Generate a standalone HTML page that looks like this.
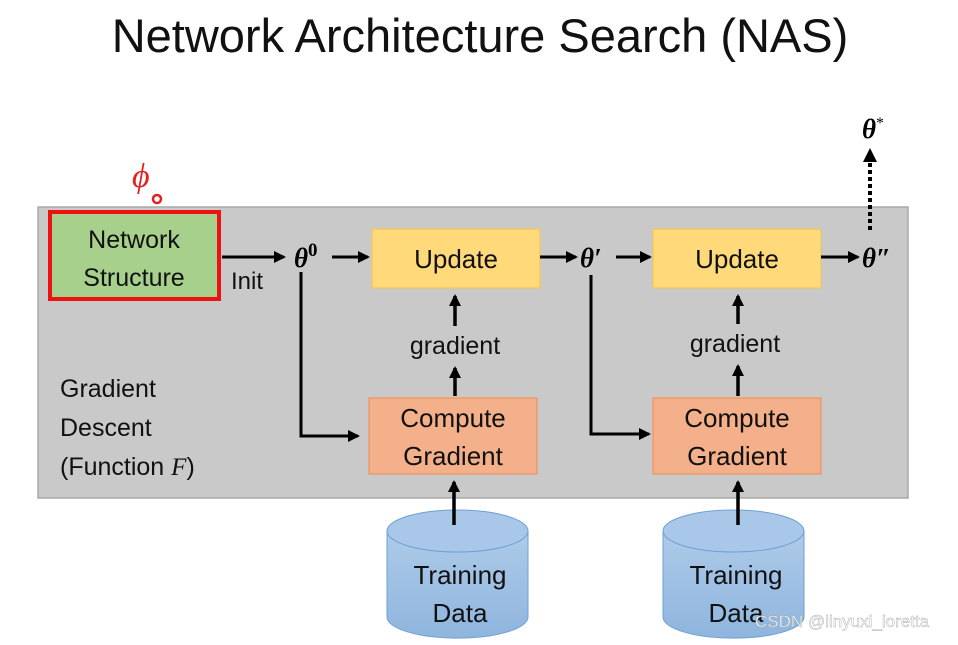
<!DOCTYPE html>
<html><head><meta charset="utf-8"><style>
body{margin:0;width:958px;height:640px;background:#fff;overflow:hidden;font-family:"Liberation Sans",sans-serif}
</style></head><body>
<svg width="958" height="640" viewBox="0 0 958 640" xmlns="http://www.w3.org/2000/svg" font-family="Liberation Sans, sans-serif">
<defs>
<marker id="a" markerWidth="8" markerHeight="8" refX="6" refY="4" orient="auto" markerUnits="userSpaceOnUse"><path d="M0,0 L8,4 L0,8 z" fill="#000"/></marker>
<marker id="b" markerWidth="12" markerHeight="12" refX="10" refY="6" orient="auto" markerUnits="userSpaceOnUse"><path d="M0,0 L12,6 L0,12 z" fill="#000"/></marker>
<linearGradient id="cy" x1="0" y1="0" x2="0" y2="1"><stop offset="0" stop-color="#aecbe9"/><stop offset="1" stop-color="#8fb5de"/></linearGradient>
</defs>
<text x="480" y="52" font-size="47" text-anchor="middle" fill="#111">Network Architecture Search (NAS)</text>
<rect x="38" y="207" width="870" height="291" fill="#c9c9c9" stroke="#a8a8a8" stroke-width="1.5"/>
<text x="132" y="187" font-size="34" fill="#e52020" font-style="italic" font-family="Liberation Serif, serif">ϕ</text>
<circle cx="157" cy="199" r="4" fill="none" stroke="#e52020" stroke-width="2.5"/>
<rect x="50" y="212" width="169" height="87" fill="#a8d08d" stroke="#ee1111" stroke-width="4"/>
<text x="134" y="248" font-size="25" text-anchor="middle" fill="#111">Network</text>
<text x="134" y="286" font-size="25" text-anchor="middle" fill="#111">Structure</text>
<line x1="222" y1="257" x2="284" y2="257" stroke="#000" stroke-width="3" marker-end="url(#b)"/>
<text x="231" y="289" font-size="24" fill="#111">Init</text>
<text x="294" y="267" font-size="27" font-weight="bold" font-style="italic" font-family="Liberation Serif, serif">θ<tspan font-size="19" dy="-11" font-style="normal">0</tspan></text>
<line x1="332" y1="257" x2="368" y2="257" stroke="#000" stroke-width="3" marker-end="url(#b)"/>
<rect x="372" y="229" width="168" height="59" fill="#ffd97a" stroke="#f2c24e"/>
<text x="456" y="268" font-size="26" text-anchor="middle" fill="#111">Update</text>
<line x1="540" y1="257" x2="576" y2="257" stroke="#000" stroke-width="3" marker-end="url(#b)"/>
<text x="580" y="267" font-size="27" font-weight="bold" font-style="italic" font-family="Liberation Serif, serif">θ′</text>
<line x1="616" y1="257" x2="650" y2="257" stroke="#000" stroke-width="3" marker-end="url(#b)"/>
<rect x="653" y="229" width="168" height="59" fill="#ffd97a" stroke="#f2c24e"/>
<text x="737" y="268" font-size="26" text-anchor="middle" fill="#111">Update</text>
<line x1="821" y1="257" x2="858" y2="257" stroke="#000" stroke-width="3" marker-end="url(#b)"/>
<text x="862" y="267" font-size="27" font-weight="bold" font-style="italic" font-family="Liberation Serif, serif">θ″</text>
<line x1="870" y1="230" x2="870" y2="158" stroke="#000" stroke-width="4" stroke-dasharray="4,3"/>
<path d="M863,162 L870,148 L877,162 z" fill="#000"/>
<text x="862" y="138" font-size="27" font-weight="bold" font-style="italic" font-family="Liberation Serif, serif">θ<tspan font-size="16" dy="-10" font-weight="normal" font-style="normal">*</tspan></text>
<polyline points="301,272 301,436 358,436" fill="none" stroke="#000" stroke-width="3" marker-end="url(#b)"/>
<polyline points="591,275 591,434 649,434" fill="none" stroke="#000" stroke-width="3" marker-end="url(#b)"/>
<rect x="369" y="398" width="168" height="76" fill="#f4b08a" stroke="#ee8a50"/>
<text x="453" y="427" font-size="26" text-anchor="middle" fill="#111">Compute</text>
<text x="453" y="465" font-size="26" text-anchor="middle" fill="#111">Gradient</text>
<rect x="653" y="398" width="168" height="76" fill="#f4b08a" stroke="#ee8a50"/>
<text x="737" y="427" font-size="26" text-anchor="middle" fill="#111">Compute</text>
<text x="737" y="465" font-size="26" text-anchor="middle" fill="#111">Gradient</text>
<line x1="455" y1="396" x2="455" y2="368" stroke="#000" stroke-width="3.5" marker-end="url(#b)"/>
<line x1="455" y1="326" x2="455" y2="296" stroke="#000" stroke-width="3.5" marker-end="url(#b)"/>
<text x="455" y="354" font-size="25" text-anchor="middle" fill="#111">gradient</text>
<line x1="738" y1="396" x2="738" y2="366" stroke="#000" stroke-width="3.5" marker-end="url(#b)"/>
<line x1="738" y1="324" x2="738" y2="296" stroke="#000" stroke-width="3.5" marker-end="url(#b)"/>
<text x="735" y="352" font-size="25" text-anchor="middle" fill="#111">gradient</text>
<g stroke="#6f9fd4" stroke-width="1">
<path d="M387,531 L387,617 A70,21 0 0 0 528,617 L528,531" fill="url(#cy)"/>
<ellipse cx="457.5" cy="531" rx="70.5" ry="21" fill="#a9c7e8"/>
<path d="M663,531 L663,617 A70,21 0 0 0 804,617 L804,531" fill="url(#cy)"/>
<ellipse cx="733.5" cy="531" rx="70.5" ry="21" fill="#a9c7e8"/>
</g>
<line x1="454" y1="525" x2="454" y2="482" stroke="#000" stroke-width="3.5" marker-end="url(#b)"/>
<line x1="738" y1="525" x2="738" y2="482" stroke="#000" stroke-width="3.5" marker-end="url(#b)"/>
<text x="460" y="584" font-size="26" text-anchor="middle" fill="#111">Training</text>
<text x="460" y="622" font-size="26" text-anchor="middle" fill="#111">Data</text>
<text x="736" y="584" font-size="26" text-anchor="middle" fill="#111">Training</text>
<text x="736" y="622" font-size="26" text-anchor="middle" fill="#111">Data</text>
<text x="755" y="627" font-size="17" fill="#fff" stroke="#999" stroke-width="0.4" opacity="0.9">CSDN @linyuxi_loretta</text>
<text x="60" y="397" font-size="25" fill="#111">Gradient</text>
<text x="60" y="436" font-size="25" fill="#111">Descent</text>
<text x="60" y="475" font-size="25" fill="#111">(Function <tspan font-style="italic" font-family="Liberation Serif, serif">F</tspan>)</text>
</svg>
</body></html>
